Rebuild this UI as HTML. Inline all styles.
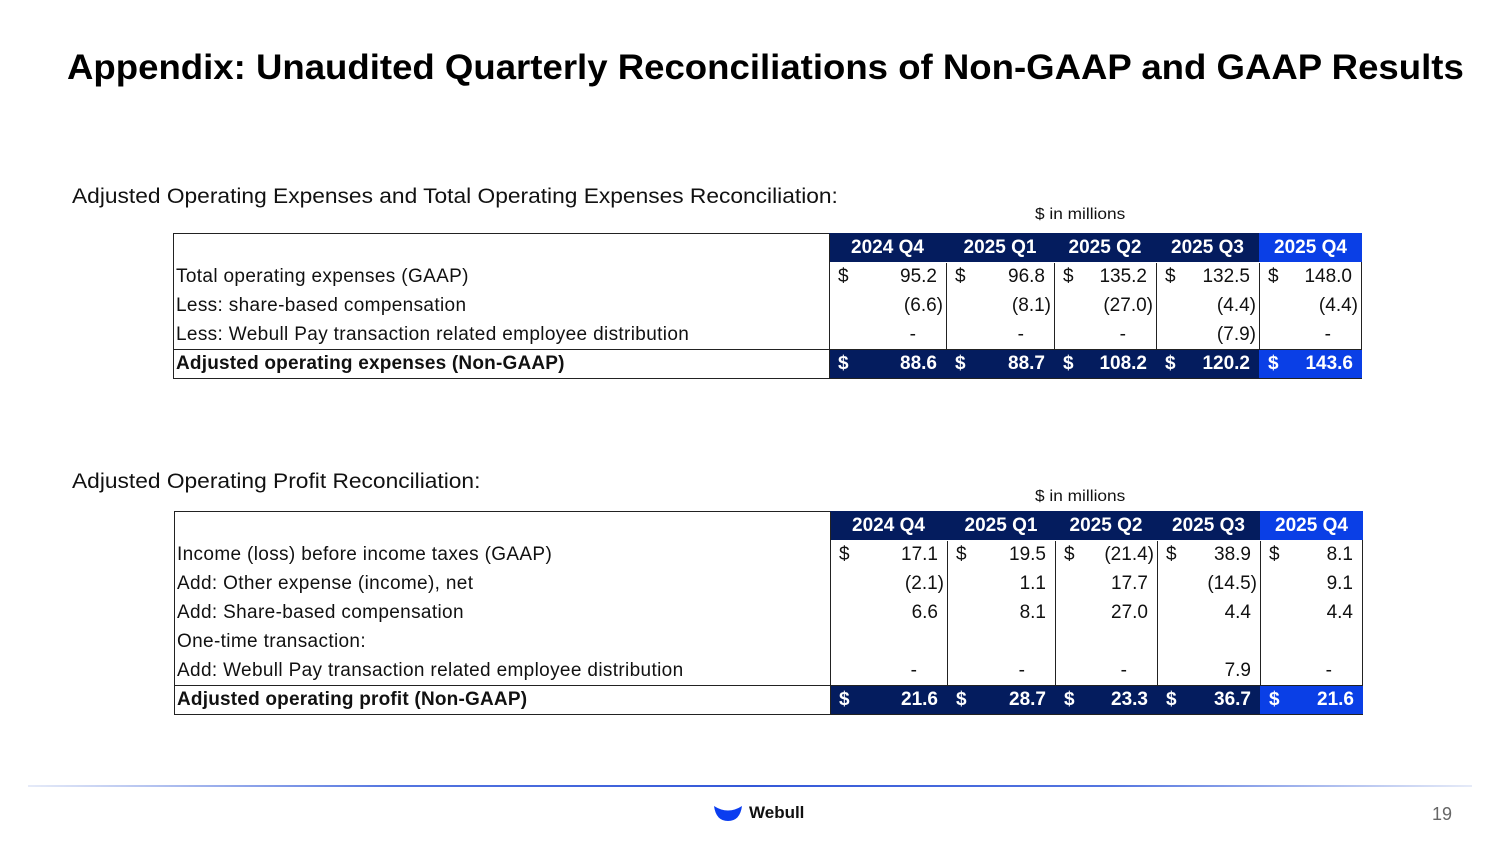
<!DOCTYPE html>
<html><head><meta charset="utf-8"><style>
body{margin:0;width:1500px;height:844px;background:#fff;font-family:"Liberation Sans",sans-serif;position:relative;overflow:hidden;color:#111}
.abs{position:absolute}
h1{position:absolute;left:67px;top:48px;margin:0;font-size:35px;font-weight:bold;white-space:nowrap;color:#000;transform-origin:0 0;transform:scaleX(1.045)}
.sub{font-size:21.5px;color:#111;transform-origin:0 0;transform:scaleX(1.058);white-space:nowrap}
.unit{font-size:16px;transform-origin:0 0;transform:scaleX(1.08)}
.tbl{position:absolute;border:1px solid #222;box-sizing:border-box}
.cell{position:absolute;box-sizing:border-box;font-size:19px;white-space:nowrap;overflow:hidden}
.hdr{color:#fff;font-weight:bold;text-align:center;line-height:29px}
.navy{background:#041c5e}
.blue{background:#0a3fe6}
.num{text-align:right;padding-right:9px;line-height:29px}
.num.par{padding-right:3px}
.num.dash{padding-right:30px}
.dol{position:absolute;left:9px;top:0;line-height:29px}
.lbl{padding-left:3px;line-height:29px;letter-spacing:0.35px}
.vl{position:absolute;width:1px;background:#222}
</style></head><body>
<h1>Appendix: Unaudited Quarterly Reconciliations of Non-GAAP and GAAP Results</h1>
<div class="abs sub" style="left:72px;top:184px">Adjusted Operating Expenses and Total Operating Expenses Reconciliation:</div>
<div class="abs unit" style="left:1035px;top:206px">$ in millions</div>
<div class="abs sub" style="left:72px;top:469px">Adjusted Operating Profit Reconciliation:</div>
<div class="abs unit" style="left:1035px;top:488px">$ in millions</div>
<div class="abs" style="left:28px;top:785px;width:1444px;height:2px;background:linear-gradient(90deg,#e6ebf8,#5576e0 25%,#3458d8 50%,#5576e0 75%,#e6ebf8)"></div>
<svg class="abs" style="left:713px;top:803px" width="30" height="20" viewBox="0 0 30 20"><path d="M1 3 Q15 12 29 3 Q27 18 15 18 Q3 18 1 3Z" fill="#0b3df0"/></svg>
<div class="abs" style="left:749px;top:803px;font-size:17px;font-weight:bold">Webull</div>
<div class="abs" style="left:1432px;top:804px;font-size:18px;color:#666">19</div>
<script>
const quarters=["2024 Q4","2025 Q1","2025 Q2","2025 Q3","2025 Q4"];
const t1Labels=["Total operating expenses (GAAP)","Less: share-based compensation","Less: Webull Pay transaction related employee distribution"];
const t1Values=[["95.2","96.8","135.2","132.5","148.0"],["(6.6)","(8.1)","(27.0)","(4.4)","(4.4)"],["-","-","-","(7.9)","-"]];
const t1TotalLabel="Adjusted operating expenses (Non-GAAP)";
const t1Total=["88.6","88.7","108.2","120.2","143.6"];
const t2Labels=["Income (loss) before income taxes (GAAP)","Add: Other expense (income), net","Add: Share-based compensation","One-time transaction:","Add: Webull Pay transaction related employee distribution"];
const t2Values=[["17.1","19.5","(21.4)","38.9","8.1"],["(2.1)","1.1","17.7","(14.5)","9.1"],["6.6","8.1","27.0","4.4","4.4"],["","","","",""],["-","-","-","7.9","-"]];
const t2TotalLabel="Adjusted operating profit (Non-GAAP)";
const t2Total=["21.6","28.7","23.3","36.7","21.6"];

function build(x,y,colX,labels,values,totLabel,tot,name){
  const rh=29;const W=colX[5]-x;const H=rh*(labels.length+2);
  const t=document.createElement('div');t.className='tbl';
  
  
  t.style.cssText=`left:${x}px;top:${y}px;width:${W+1}px;height:${H+1}px`;
  document.body.appendChild(t);
  function cell(l,tp,w,h,cls,txt){const c=document.createElement('div');c.className='cell '+cls;c.style.cssText=`left:${l-x-1}px;top:${tp-y-1}px;width:${w}px;height:${h}px`;if(txt!==undefined)c.textContent=txt;t.appendChild(c);return c;}
  quarters.forEach((q,i)=>{const c=cell(colX[i],y,colX[i+1]-colX[i]+(i==4?1:0),rh,'hdr '+(i==4?'blue':'navy'),q);
    
    });
  labels.forEach((lb,r)=>{const ty=y+rh*(r+1);
    const c=cell(x,ty,colX[0]-x,rh,'lbl',lb);
    
    
    values[r].forEach((v,i)=>{const extra=v.startsWith('(')?' par':(v==='-'?' dash':'');
      const d=cell(colX[i],ty,colX[i+1]-colX[i],rh,'num'+extra,v);
      
      
      if(r==0){const s=document.createElement('span');s.className='dol';s.textContent='$';d.appendChild(s);}});
  });
  const ty=y+rh*(labels.length+1);
  const bl=cell(x,ty,colX[0]-x,rh,'lbl',totLabel);bl.style.fontWeight='bold';bl.style.letterSpacing='0.2px';
  
  
  tot.forEach((v,i)=>{const d=cell(colX[i],ty,colX[i+1]-colX[i]+(i==4?1:0),rh,'num hdr '+(i==4?'blue':'navy'),v);d.style.textAlign='right';
    
    
    const s=document.createElement('span');s.className='dol';s.textContent='$';d.appendChild(s);});
  const hl=document.createElement('div');hl.style.cssText=`position:absolute;left:0;top:${ty-y-1}px;width:${W}px;height:1px;background:#222`;t.appendChild(hl);
  for(let i=0;i<5;i++){const v=document.createElement('div');v.className='vl';v.style.cssText+=`left:${colX[i]-x-1}px;top:${rh}px;height:${rh*labels.length}px`;t.appendChild(v);}
  const v2=document.createElement('div');v2.className='vl';v2.style.cssText+=`left:${colX[0]-x-1}px;top:0;height:${H}px`;t.appendChild(v2);
}
build(173,233,[829,946,1054,1156,1259,1361],t1Labels,t1Values,t1TotalLabel,t1Total,'opex-reconciliation-table');
build(174,511,[830,947,1055,1157,1260,1362],t2Labels,t2Values,t2TotalLabel,t2Total,'profit-reconciliation-table');
</script>
</body></html>
